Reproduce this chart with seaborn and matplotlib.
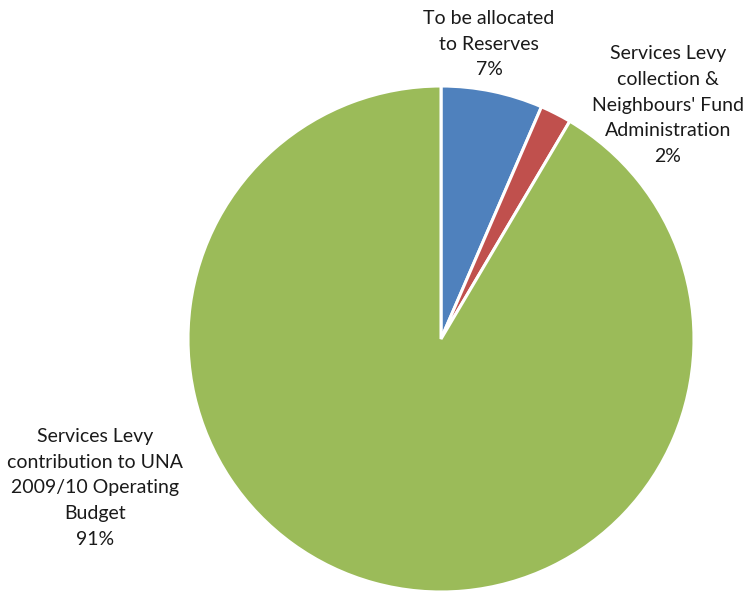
import matplotlib
matplotlib.use("Agg")
import matplotlib.pyplot as plt
import seaborn as sns

categories = ["To be allocated\nto Reserves",
              "Services Levy\ncollection &\nNeighbours' Fund\nAdministration",
              "Services Levy\ncontribution to UNA\n2009/10 Operating\nBudget"]
values = [6.5, 2.0, 91.5]
pct_labels = ["7%", "2%", "91%"]
colors = ["#4F81BD", "#C0504D", "#9BBB59"]

sns.set_theme(style="white")
plt.rcParams['font.family'] = ['Lato', 'DejaVu Sans']

W, H = 743, 593
fig = plt.figure(figsize=(W / 100, H / 100), dpi=100)
cx, cy, r = 441, 339, 253
ax = fig.add_axes([(cx - r) / W, (H - cy - r) / H, 2 * r / W, 2 * r / H])
ax.pie(values, colors=colors, startangle=90, counterclock=False,
       wedgeprops=dict(edgecolor="white", linewidth=2.2), radius=1.0)
ax.set_xlim(-1, 1)
ax.set_ylim(-1, 1)
ax.set_aspect("equal")
ax.axis("off")

label_pos = [(489, 44), (668, 105), (95, 488)]
for cat, pct, (x, y) in zip(categories, pct_labels, label_pos):
    fig.text(x / W, 1 - y / H, f"{cat}\n{pct}", ha="center", va="center",
             fontsize=14, color="#1a1a1a", linespacing=1.62)

fig.savefig("out.png", dpi=100, facecolor="white")
